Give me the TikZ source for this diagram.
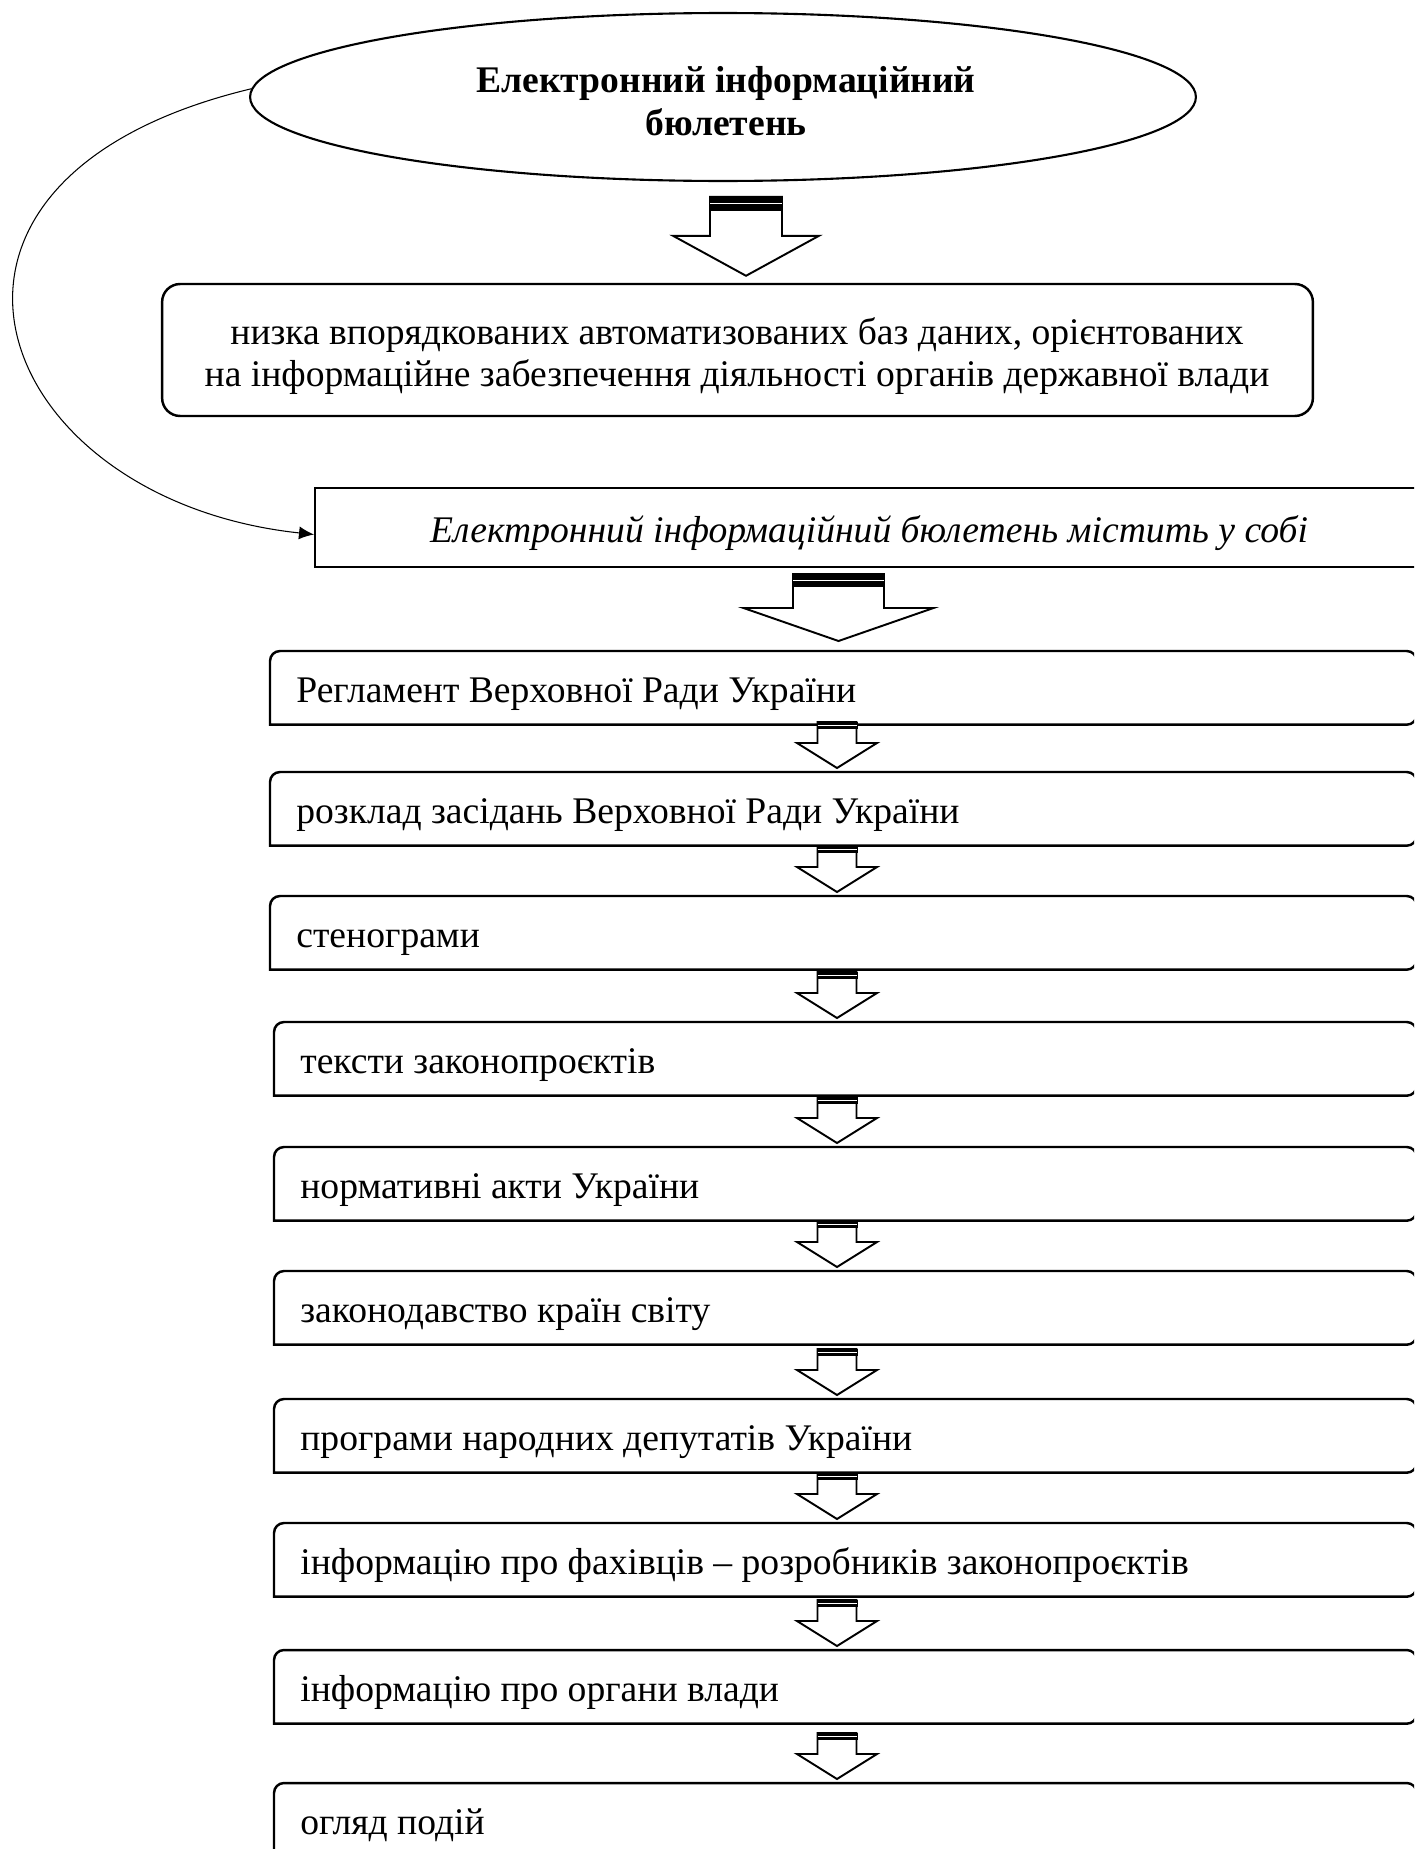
\documentclass[tikz,border=0pt]{standalone}
\usepackage{fontspec}
\setmainfont{Liberation Serif}
\usetikzlibrary{arrows,arrows.meta,shapes,positioning,calc}

% tip, length, shaft half width, head half width, head length, bar height
\newcommand{\blkarrow}[6]{%
  \draw[line width=1.1pt,fill=white] (#1) -- ++(-#4,-#5) -- ++(#4-#3,0) -- ++(0,#5-#2)
    -- ++(2*#3,0) -- ++(0,#2-#5) -- ++(#4-#3,0) -- cycle;
  \fill (#1) ++(-#3-1,-#2) rectangle ++(2*#3+2,#6);
  \draw[white,line width=0.5pt] (#1) ++(-#3,-#2+#6/2) -- ++(2*#3,0);
}

\begin{document}
\begin{tikzpicture}[x=0.02cm,y=-0.02cm]
    \tikzstyle{every node}+=[inner sep=0pt, font=\fontsize{21.4}{24.3}\selectfont]
    \tikzstyle{boldtxt}=[align=center, font=\fontsize{21.4}{24.3}\selectfont\bfseries]
    \tikzstyle{lbox}=[line width=1.4pt]
    \useasboundingbox (0,0) rectangle (1414,1849);
    \clip (0,0) rectangle (1414,1849);

    % top part
    \node[ellipse, draw, line width=1.2pt, minimum width=18.92cm, minimum height=3.36cm] (bul) at (723,97) {};
    \node[boldtxt] (bultxt) at (726,101) {Електронний інформаційний\\бюлетень};
    \node[draw, lbox, rounded corners=0.36cm, minimum width=23.02cm, minimum height=2.64cm] (db) at (737.5,350) {};
    \node[align=center] (dbtxt) at (737,356) {низка впорядкованих автоматизованих баз даних, орієнтованих\\на інформаційне забезпечення діяльності органів державної влади};
    \node[draw, lbox, anchor=west, minimum width=22.44cm, minimum height=1.58cm] (info) at (314,527.5) {};
    \node[anchor=base, font=\fontsize{21.4}{24.3}\selectfont\itshape] (infotxt) at (869,542) {Електронний інформаційний бюлетень містить у собі};
    \draw[line width=0.6pt, -{Latex[length=0.3cm,width=0.26cm]}] (bul.179) .. controls (-130,180) and (-10,500) .. ([yshift=-0.14cm]info.west);

    \coordinate (tipA) at ($(db.north)+(8.5,-7)$);
    \blkarrow{tipA}{79}{36}{73}{40}{14}

    % list of contents
    \foreach \i/\lx/\ty/\txt in {1/270/651/{Регламент Верховної Ради України},
        2/270/772/{розклад засідань Верховної Ради України},
        3/270/896/{стенограми},
        4/274/1022/{тексти законопроєктів},
        5/274/1147/{нормативні акти України},
        6/274/1271/{законодавство країн світу},
        7/274/1399/{програми народних депутатів України},
        8/274/1523/{інформацію про фахівців – розробників законопроєктів},
        9/274/1650/{інформацію про органи влади},
        10/274/1783/{огляд подій}}
    {
        \node[anchor=north west, minimum width={(1416-\lx)*0.02cm}, minimum height=1.46cm] (b\i) at (\lx,\ty) {};
        \draw[lbox] (b\i.south west) [rounded corners=0.2cm] -- (b\i.north west) -- (b\i.north east) -- (b\i.south east) [sharp corners] -- cycle;
        \node[anchor=base west] (t\i) at (\lx+26,\ty+51) {\txt};
    }

    \coordinate (ax) at (837,0);
    \coordinate (tipB) at ($(b1.north -| ax)+(1.5,-10)$);
    \blkarrow{tipB}{67}{45.5}{95}{33}{13}
    \foreach \i [evaluate=\i as \j using int(\i+1)] in {1,...,9}
    {
        \coordinate (tip\j) at ($(b\j.north -| ax)+(0,-4)$);
        \blkarrow{tip\j}{46}{19.5}{40}{25}{7}
    }
\end{tikzpicture}
\end{document}
